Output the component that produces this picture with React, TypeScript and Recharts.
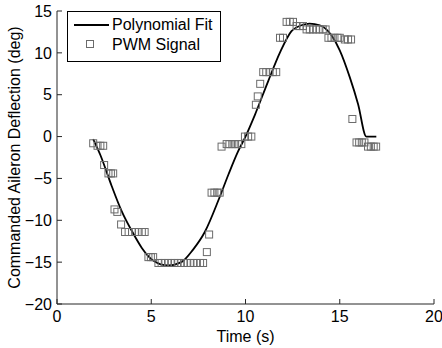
import React from 'react'
import { ComposedChart, Line, Scatter, XAxis, YAxis, Legend } from 'recharts'

const fitTime = [1.92, 2.3, 2.9, 3.43, 4.0, 4.5, 5.1, 5.9, 6.6, 7.22, 7.84, 8.6, 9.1, 9.6, 10.0, 10.5, 11.2, 11.82, 12.44, 12.97, 13.4, 13.94, 14.56, 15.0, 15.53, 15.97, 16.41, 16.94]
const fitDeflection = [-0.3, -2.2, -5.9, -8.9, -11.4, -13.3, -14.8, -15.4, -15.0, -13.5, -11.4, -7.4, -4.5, -1.8, 0, 2.6, 6.6, 10.0, 12.6, 13.3, 13.5, 13.3, 12.1, 10.3, 7.1, 3.9, 0.0, 0.0]

const pwmTime = [
  1.92, 2.15, 2.3, 2.45, 2.5, 2.73, 2.86, 2.98, 3.05, 3.2, 3.4,
  3.61, 3.8, 3.98, 4.15, 4.33, 4.5, 4.65, 4.85, 4.98, 5.1,
  5.38, 5.55, 5.72, 5.89, 6.06, 6.23, 6.4, 6.57, 6.74, 6.91, 7.08, 7.25, 7.42, 7.59, 7.75,
  7.95, 8.07, 8.2, 8.35, 8.5, 8.63, 8.73,
  9.0, 9.15, 9.3, 9.45, 9.6, 9.78, 9.97, 10.14, 10.31,
  10.55, 10.65, 10.78, 10.94, 11.1, 11.27, 11.45, 11.63, 11.83, 11.99,
  12.18, 12.35, 12.52, 12.71, 12.88, 13.05,
  13.24, 13.41, 13.58, 13.75, 13.92, 14.1, 14.25,
  14.4, 14.56, 14.72, 14.88, 15.0, 15.27, 15.44, 15.6, 15.67,
  15.89, 16.03, 16.17, 16.31, 16.5, 16.65, 16.8, 16.93,
]
const pwmDeflection = [
  -0.8, -1.1, -1.1, -1.1, -3.4, -4.4, -4.4, -4.4, -8.7, -9.0, -10.5,
  -11.4, -11.4, -11.4, -11.4, -11.4, -11.4, -11.4, -14.4, -14.4, -14.4,
  -15.1, -15.1, -15.1, -15.1, -15.1, -15.1, -15.1, -15.1, -15.1, -15.1, -15.1, -15.1, -15.1, -15.1, -15.1,
  -13.8, -11.7, -6.7, -6.7, -6.7, -6.7, -1.2,
  -0.9, -0.9, -0.9, -0.9, -0.9, -0.9, 0, 0, 0,
  3.8, 4.8, 6.3, 7.7, 7.7, 7.7, 7.7, 7.7, 11.8, 11.8,
  13.7, 13.7, 13.7, 13.2, 13.2, 13.2,
  12.8, 12.8, 12.8, 12.8, 12.8, 12.8, 12.8,
  11.8, 11.8, 11.8, 11.8, 11.8, 11.6, 11.6, 11.6, 2.1,
  -0.7, -0.7, -0.7, -0.7, -1.2, -1.2, -1.2, -1.2,
]

const xTicks = [0, 5, 10, 15, 20]
const yTicks = [-20, -15, -10, -5, 0, 5, 10, 15]

const fitData = fitTime.map((t, i) => ({ t, deg: fitDeflection[i] }))
const pwmData = pwmTime.map((t, i) => ({ t, deg: pwmDeflection[i] }))

const FONT = '"Liberation Sans", Arial, sans-serif'
const AXIS = '#262626'
const MARKER = '#6b6b6b'

const SquareMarker = (props: any) => {
  const { cx, cy } = props
  return <rect x={cx - 3.5} y={cy - 3.5} width={7} height={7} fill="none" stroke={MARKER} strokeWidth={1} />
}

const LegendBox = () => (
  <div style={{ position: 'relative', width: 152, height: 49, border: '1px solid #000', background: '#fff', fontFamily: FONT, fontSize: 16, color: '#000' }}>
    <svg width={152} height={49} style={{ position: 'absolute', left: 0, top: 0 }}>
      <line x1={6} x2={41} y1={13} y2={13} stroke="#000" strokeWidth={1.8} />
      <rect x={18.5} y={28.5} width={7} height={7} fill="none" stroke={MARKER} strokeWidth={1} />
    </svg>
    <span style={{ position: 'absolute', left: 44, top: 5, lineHeight: '16px', whiteSpace: 'nowrap' }}>Polynomial Fit</span>
    <span style={{ position: 'absolute', left: 44, top: 25, lineHeight: '16px', whiteSpace: 'nowrap' }}>PWM Signal</span>
  </div>
)

export default function App() {
  return (
    <div style={{ position: 'absolute', left: 0, top: 0, fontFamily: FONT }}>
      <ComposedChart width={442} height={348} margin={{ top: 11, right: 8, left: 0, bottom: 0 }}>
        <XAxis
          dataKey="t"
          type="number"
          domain={[0, 20]}
          ticks={xTicks}
          allowDuplicatedCategory={false}
          stroke={AXIS}
          tickSize={-5}
          tickMargin={12}
          height={44}
          tick={{ fill: '#000', fontSize: 16, fontFamily: FONT }}
          label={{ value: 'Time (s)', position: 'center', dy: 10, fill: '#000', fontSize: 16, fontFamily: FONT }}
        />
        <YAxis
          dataKey="deg"
          type="number"
          domain={[-20, 15]}
          ticks={yTicks}
          stroke={AXIS}
          tickSize={-5}
          tickMargin={10}
          width={57}
          tick={{ fill: '#000', fontSize: 16, fontFamily: FONT }}
          tickFormatter={(v) => (v < 0 ? '\u2212' + Math.abs(v) : String(v))}
          label={{ value: 'Commanded Aileron Deflection (deg)', angle: -90, position: 'center', dx: -14, fill: '#000', fontSize: 16, fontFamily: FONT }}
        />
        <Legend
          verticalAlign="middle"
          align="center"
          content={() => <LegendBox />}
          wrapperStyle={{ left: 67, top: 11, width: 154, height: 51 }}
        />
        <Scatter data={pwmData} dataKey="deg" shape={<SquareMarker />} isAnimationActive={false} legendType="square" />
        <Line data={fitData} dataKey="deg" type="monotone" stroke="#000" strokeWidth={1.8} dot={false} isAnimationActive={false} />
      </ComposedChart>
    </div>
  )
}
